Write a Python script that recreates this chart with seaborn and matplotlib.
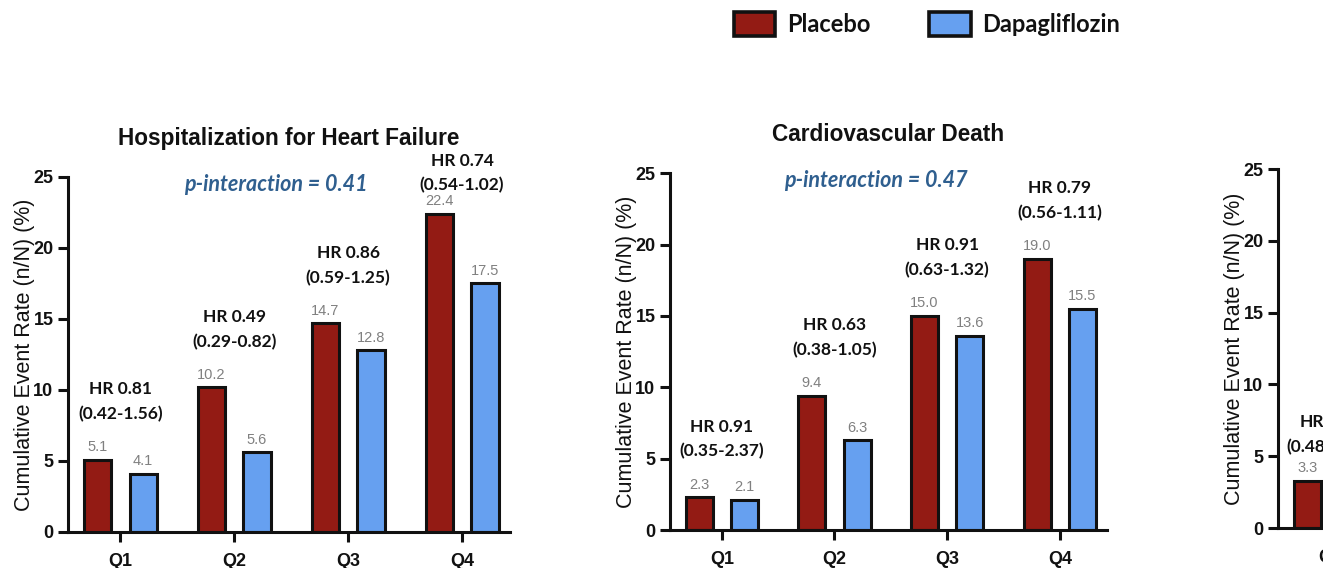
"""
Cumulative event rates by quartile, placebo vs dapagliflozin (three panels, last one cut off).
"""
import matplotlib
matplotlib.use("Agg")
import matplotlib.pyplot as plt
from matplotlib.patches import Patch, Rectangle
import pandas as pd
import seaborn as sns

quartiles = ["Q1", "Q2", "Q3", "Q4"]
arms = ["Placebo", "Dapagliflozin"]

hhf_placebo = [5.1, 10.2, 14.7, 22.4]
hhf_dapa = [4.1, 5.6, 12.8, 17.5]
hhf_hr = ["HR 0.81", "HR 0.49", "HR 0.86", "HR 0.74"]
hhf_ci = ["(0.42-1.56)", "(0.29-0.82)", "(0.59-1.25)", "(0.54-1.02)"]

cvd_placebo = [2.3, 9.4, 15.0, 19.0]
cvd_dapa = [2.1, 6.3, 13.6, 15.5]
cvd_hr = ["HR 0.91", "HR 0.63", "HR 0.91", "HR 0.79"]
cvd_ci = ["(0.35-2.37)", "(0.38-1.05)", "(0.63-1.32)", "(0.56-1.11)"]

# third panel is cropped in the source: only Q1 placebo is visible
third_quartiles = ["Q1"]
third_placebo = [3.3]
third_hr = ["HR"]
third_ci = ["(0.48"]

COLORS = {"Placebo": "#931B14", "Dapagliflozin": "#66A0F0"}
SANS = "Liberation Sans"
HUMAN = "Lato"
INK = "#111111"

sns.set_style("ticks")
plt.rcParams["font.family"] = [SANS, "DejaVu Sans"]
plt.rcParams.update({"text.color": INK, "axes.labelcolor": INK, "xtick.color": INK,
                     "ytick.color": INK, "axes.edgecolor": INK})


def long_frame(qs, placebo, dapa):
    rows = [(q, "Placebo", v) for q, v in zip(qs, placebo)]
    rows += [(q, "Dapagliflozin", v) for q, v in zip(qs, dapa)]
    return pd.DataFrame(rows, columns=["quartile", "arm", "rate"])


def draw_panel(ax, df, title=None, pval=None):
    sns.barplot(data=df, x="quartile", y="rate", hue="arm", order=quartiles,
                hue_order=arms, palette=COLORS, saturation=1, dodge=True, gap=0.4,
                errorbar=None, edgecolor=INK, linewidth=2.2, legend=False, ax=ax)
    for c in ax.containers:
        ax.bar_label(c, fmt="%.1f", padding=4, color="#808080", fontsize=10.5)
    ax.set_xlim(-0.46, 3.42)
    ax.set_ylim(0, 25)
    ax.set_yticks(range(0, 26, 5))
    ax.set_xlabel("")
    ax.set_ylabel("Cumulative Event Rate (n/N) (%)", fontsize=15.5, labelpad=-1)
    for s in ["top", "right"]:
        ax.spines[s].set_visible(False)
    for s in ["left", "bottom"]:
        ax.spines[s].set_linewidth(2.2)
    ax.tick_params(width=2.2, length=7, labelsize=13)
    ax.tick_params(axis="x", pad=8)
    for lab in ax.get_xticklabels() + ax.get_yticklabels():
        lab.set_fontweight("bold")
    if title:
        ax.set_title(title, fontsize=16.3, fontweight="bold", pad=23)
    if pval:
        ax.text(0.47, 0.98, pval, transform=ax.transAxes, ha="center", va="center",
                fontsize=15.5, fontweight="bold", style="italic", color="#2f5f8f",
                family=HUMAN)


def hr_labels(ax, tops, hr, ci, ha="center", xs=None):
    for i, (top, h, c) in enumerate(zip(tops, hr, ci)):
        y = min(top + 3.2, 24.4)
        xh, xc = (i, i) if xs is None else xs
        ax.text(xh, y + 1.75, h, ha=ha, va="center", fontsize=12.5,
                fontweight="bold", color=INK, family=HUMAN)
        ax.text(xc, y, c, ha=ha, va="center", fontsize=12.5,
                fontweight="bold", color=INK, family=HUMAN)


fig = plt.figure(figsize=(13.39, 5.68), dpi=100)
ax1 = fig.add_axes([0.0508, 0.0635, 0.330, 0.625])
ax2 = fig.add_axes([0.5004, 0.0669, 0.3264, 0.628])
ax3 = fig.add_axes([0.9545, 0.0704, 0.330, 0.632])

draw_panel(ax1, long_frame(quartiles, hhf_placebo, hhf_dapa),
           "Hospitalization for Heart Failure", "p-interaction = 0.41")
hr_labels(ax1, [max(a, b) for a, b in zip(hhf_placebo, hhf_dapa)], hhf_hr, hhf_ci)

draw_panel(ax2, long_frame(quartiles, cvd_placebo, cvd_dapa),
           "Cardiovascular Death", "p-interaction = 0.47")
hr_labels(ax2, [max(a, b) for a, b in zip(cvd_placebo, cvd_dapa)], cvd_hr, cvd_ci)

draw_panel(ax3, long_frame(third_quartiles, third_placebo, []))
ax3.set_xticks([0], third_quartiles, fontweight="bold")
hr_labels(ax3, [t - 0.9 for t in third_placebo], third_hr, third_ci,
          ha="left", xs=(-0.27, -0.39))

# the source image is cut just before its right edge
fig.add_artist(Rectangle((1323 / 1339, 0), 1, 1, transform=fig.transFigure,
                         facecolor="white", edgecolor="none", zorder=10))

handles = [Patch(facecolor=COLORS[a], edgecolor=INK, linewidth=2.6, label=a)
           for a in arms]
fig.legend(handles=handles, loc="center", bbox_to_anchor=(927 / 1339, 1 - 24 / 568),
           ncol=2, frameon=False, handlelength=1.75, handleheight=1.15,
           handletextpad=0.5, columnspacing=2.5,
           prop={"family": HUMAN, "weight": "bold", "size": 17})

fig.savefig("out.png", dpi=100, facecolor="white")
